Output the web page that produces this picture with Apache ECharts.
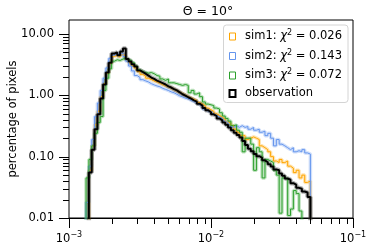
<!DOCTYPE html>
<html><head><meta charset="utf-8">
<script src="https://cdn.jsdelivr.net/npm/echarts@6/dist/echarts.min.js"></script>
<style>html,body{margin:0;padding:0;background:#fff}#c{width:373px;height:249px}</style>
</head><body><div id="c"></div>
<script>
// ---- data ----
const binStartLog = -2.88;   // log10 of first bin edge
const binWidthLog = 0.02;    // log10 bin width
const sim1 = [0, 0.06, 0.15, 0.33, 0.55, 0.95, 1.55, 2.3, 3.3, 4.3,
  4.5, 4.2, 4.6, 4.4, 3.8, 3.4, 3.1, 2.8, 2.45, 2.2,
  2.05, 1.9, 1.82, 1.72, 1.66, 1.58, 1.5, 1.44, 1.38, 1.32,
  1.25, 1.18, 1.12, 1.06, 1.0, 0.95, 0.9, 0.86, 0.82, 0.76,
  0.72, 0.68, 0.62, 0.58, 0.55, 0.5, 0.47, 0.44, 0.41, 0.37,
  0.35, 0.32, 0.28, 0.25, 0.22, 0.22, 0.19, 0.2, 0.21, 0.2,
  0.19, 0.15, 0.14, 0.13, 0.12, 0.1, 0.085, 0.08, 0.09, 0.08,
  0.085, 0.07, 0.065, 0.055, 0.06, 0.045, 0.05, 0.038, 0.04];
const sim2 = [0.018, 0.07, 0.19, 0.45, 0.75, 1.2, 1.9, 2.8, 4.0, 4.5,
  4.8, 4.6, 4.9, 4.3, 3.6, 3.0, 2.5, 2.1, 1.95, 1.8,
  1.72, 1.65, 1.55, 1.48, 1.42, 1.38, 1.3, 1.25, 1.2, 1.14,
  1.1, 1.04, 0.98, 0.94, 0.9, 0.88, 0.83, 0.8, 0.75, 0.71,
  0.66, 0.6, 0.56, 0.53, 0.5, 0.47, 0.44, 0.42, 0.38, 0.36,
  0.31, 0.30, 0.32, 0.30, 0.32, 0.30, 0.31, 0.28, 0.30, 0.27,
  0.28, 0.25, 0.26, 0.22, 0.24, 0.2, 0.15, 0.19, 0.16, 0.15,
  0.14, 0.13, 0.14, 0.12, 0.125, 0.12, 0.13, 0.115, 0.11];
const sim3 = [0.045, 0.09, 0.15, 0.24, 0.36, 0.45, 1.2, 1.9, 2.7, 3.6,
  3.8, 3.7, 3.9, 4.0, 3.8, 3.7, 3.4, 3.0, 2.6, 2.45,
  2.35, 2.3, 2.35, 2.25, 2.1, 2.05, 1.85, 1.75, 1.85, 1.6,
  1.6, 1.55, 1.5, 1.45, 1.5, 1.45, 1.1, 1.2, 1.05, 1.1,
  0.95, 0.78, 0.72, 0.7, 0.68, 0.62, 0.6, 0.52, 0.46, 0.42,
  0.38, 0.32, 0.33, 0.27, 0.25, 0.12, 0.2, 0.2, 0.16, 0.06,
  0.14, 0.12, 0.045, 0.09, 0.085, 0.08, 0.06, 0.05, 0.012, 0.045,
  0.043, 0.011, 0.014, 0.028, 0.025, 0.013, 0, 0, 0];
const observation = [0, 0.055, 0.13, 0.28, 0.49, 0.89, 1.5, 2.36, 3.4, 4.8,
  5.0, 4.5, 5.2, 5.8, 3.9, 3.55, 3.2, 2.95, 2.55, 2.4,
  2.25, 2.1, 1.95, 1.85, 1.74, 1.66, 1.58, 1.5, 1.4, 1.34,
  1.26, 1.2, 1.12, 1.04, 0.99, 0.93, 0.88, 0.83, 0.79, 0.73,
  0.68, 0.62, 0.57, 0.53, 0.49, 0.46, 0.42, 0.39, 0.36, 0.33,
  0.30, 0.27, 0.245, 0.225, 0.205, 0.18, 0.155, 0.135, 0.122, 0.11,
  0.102, 0.096, 0.087, 0.081, 0.075, 0.069, 0.062, 0.060, 0.053, 0.049,
  0.044, 0.042, 0.037, 0.035, 0.031, 0.030, 0.027, 0.026, 0.022];
const seriesNames = ['sim1', 'sim2', 'sim3', 'observation'];
const chi2 = [0.026, 0.143, 0.072, null];
const xMin = 0.001, xMax = 0.1, yMin = 0.01, yMax = 16.9;
const xTickExponents = [-3, -2, -1];
const yTickLabels = ['0.01', '0.10', '1.00', '10.00'];
const titleText = 'Θ = 10°';
const yAxisTitle = 'percentage of pixels';

// ---- styling ----
const FONT = 'DejaVu Sans';
const colors = ['#ffa500', '#6495ed', '#2ca02c', '#000000'];
const widths = [1, 1, 1, 2];
const FLOOR = 1e-4; // empty bins drawn at the baseline (clipped)

const allValues = [sim1, sim2, sim3, observation];
const edges = Array.from({length: observation.length + 1}, (_, k) => Math.pow(10, binStartLog + binWidthLog * k));
function stepData(values) {
  const pts = [[edges[0], FLOOR]];
  values.forEach((v, k) => pts.push([edges[k], v > 0 ? v : FLOOR]));
  pts.push([edges[values.length], FLOOR]);
  return pts;
}
const mantissas = [2, 3, 4, 5, 6, 7, 8, 9];
const xMinor = [], yMinor = [], yMajor = [];
for (let e = -3; e < -1; e++) mantissas.forEach(m => xMinor.push(m * Math.pow(10, e)));
for (let e = -2; e <= 1; e++) {
  const d = Math.pow(10, e);
  if (d >= yMin && d <= yMax) yMajor.push(d);
  mantissas.forEach(m => { const v = m * d; if (v > yMin && v < yMax) yMinor.push(v); });
}

function tickSeries(data, horizontal, len, lw) {
  return {
    type: 'custom', silent: true, z: 6, clip: false,
    data: data,
    renderItem: (params, api) => {
      const p = api.coord([api.value(0), api.value(1)]);
      if (horizontal) {
        const y = Math.round(p[1]) + 0.5;
        return {type: 'line', shape: {x1: p[0] - len, y1: y, x2: p[0], y2: y}, style: {stroke: '#000', lineWidth: lw}};
      }
      const x = Math.round(p[0]) + 0.5;
      return {type: 'line', shape: {x1: x, y1: p[1], x2: x, y2: p[1] + len}, style: {stroke: '#000', lineWidth: lw}};
    }
  };
}

const series = [];
allValues.forEach((vals, i) => {
  series.push({
    name: seriesNames[i] + ' band', type: 'line', step: 'end', data: stepData(vals),
    symbol: 'none', clip: true, silent: true, z: 2,
    lineStyle: {color: colors[i], width: i === 3 ? 4.5 : 3.5, opacity: 0.3},
    emphasis: {disabled: true}
  });
});
allValues.forEach((vals, i) => {
  series.push({
    name: seriesNames[i], type: 'line', step: 'end', data: stepData(vals),
    symbol: 'none', clip: true, silent: true, z: i === 3 ? 4 : 3,
    itemStyle: {color: colors[i]},
    lineStyle: {color: colors[i], width: widths[i]},
    emphasis: {disabled: true}
  });
});
series.push(tickSeries(xMinor.map(v => [v, yMin]), false, 6, 1));
series.push(tickSeries(yMinor.map(v => [xMin, v]), true, 6, 1));
series.push(tickSeries(yMajor.map(v => [xMin, v]), true, 10, 1));

const chart = echarts.init(document.getElementById('c'), null, {renderer: 'canvas'});
chart.setOption({
  animation: false,
  backgroundColor: '#fff',
  title: {
    text: titleText, left: 208, top: 5, padding: 0, textAlign: 'center',
    textStyle: {fontFamily: FONT, fontSize: 12.5, fontWeight: 'normal', color: '#000'}
  },
  grid: {left: 69, right: 20, top: 20, bottom: 31, containLabel: false, outerBoundsMode: 'none',
    show: true, borderColor: '#000', borderWidth: 1, backgroundColor: 'transparent'},
  legend: {
    orient: 'vertical', right: 25, top: 25,
    icon: 'path://M0,0H6V7H0Z', itemWidth: 7, itemHeight: 7, itemGap: 6,
    borderColor: '#d4d4d4', borderWidth: 1, borderRadius: 3, padding: [4, 6, 3, 5],
    backgroundColor: 'rgba(255,255,255,0.8)',
    data: seriesNames.map((n, i) => ({
      name: n,
      itemStyle: {color: 'rgba(0,0,0,0)', borderColor: colors[i], borderWidth: i === 3 ? 2 : 1}
    })),
    formatter: name => {
      const i = seriesNames.indexOf(name);
      if (chi2[i] == null) return '{t|' + name + '}';
      return '{t|' + name + ': }{i|χ}{s|2}{t| = ' + chi2[i].toFixed(3) + '}';
    },
    textStyle: {
      fontFamily: FONT, fontSize: 11.5, color: '#000', padding: [0, 0, 0, 4],
      rich: {
        t: {fontFamily: FONT, fontSize: 11.5, color: '#000', lineHeight: 14},
        i: {fontFamily: FONT, fontSize: 11.5, fontStyle: 'italic', color: '#000', lineHeight: 14},
        s: {fontFamily: FONT, fontSize: 8, color: '#000', padding: [0, 0, 7, 0]}
      }
    }
  },
  xAxis: {
    type: 'log', logBase: 10, min: xMin, max: xMax,
    axisLine: {show: true, lineStyle: {color: '#000', width: 1}},
    axisTick: {show: true, inside: false, length: 10, lineStyle: {color: '#000', width: 1}},
    minorTick: {show: false}, splitLine: {show: false},
    axisLabel: {
      margin: 13, color: '#000',
      formatter: v => {
        const e = Math.round(Math.log10(v));
        if (xTickExponents.indexOf(e) < 0) return '';
        return '{b|10}{s|' + (e < 0 ? '−' : '') + Math.abs(e) + '}';
      },
      rich: {
        b: {fontFamily: FONT, fontSize: 11.5, color: '#000'},
        s: {fontFamily: FONT, fontSize: 8, color: '#000', padding: [0, 0, 8, 0]}
      }
    }
  },
  yAxis: {
    type: 'log', logBase: 10, min: yMin, max: yMax,
    name: yAxisTitle, nameLocation: 'middle', nameGap: 50, nameMoveOverlap: false,
    nameTextStyle: {fontFamily: FONT, fontSize: 11.5, color: '#000'},
    axisLine: {show: false}, axisTick: {show: false}, minorTick: {show: false}, splitLine: {show: false},
    axisLabel: {
      margin: 15, fontFamily: FONT, fontSize: 11.5, color: '#000',
      showMaxLabel: false,
      formatter: v => {
        const e = Math.log10(v), r = Math.round(e);
        if (Math.abs(e - r) > 1e-6) return '';
        return yTickLabels[r + 2] || '';
      }
    }
  },
  series: series
});
</script></body></html>
